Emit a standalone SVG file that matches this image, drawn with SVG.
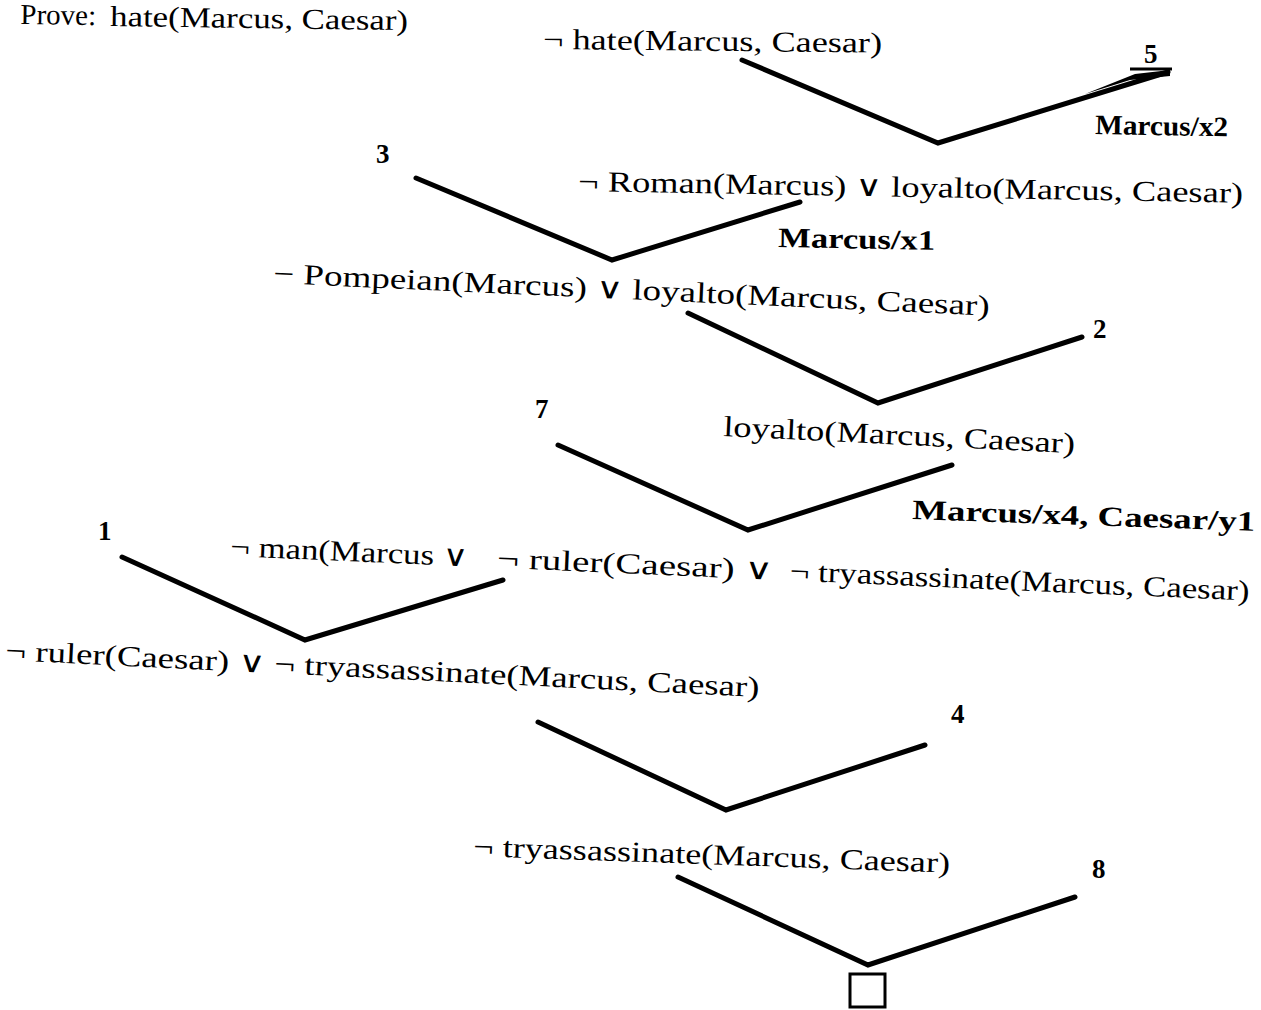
<svg xmlns="http://www.w3.org/2000/svg" width="1261" height="1010" viewBox="0 0 1261 1010">
<style>
  .t { font-family: "Liberation Serif", "DejaVu Serif", serif; font-size: 29px; fill: #000; }
  .b { font-family: "Liberation Serif", "DejaVu Serif", serif; font-size: 28px; font-weight: bold; fill: #000; }
  .n { font-family: "Liberation Serif", "DejaVu Serif", serif; font-size: 27px; font-weight: bold; fill: #000; }
  .c { fill: none; stroke: #000; stroke-width: 5; stroke-linecap: round; stroke-linejoin: miter; }
</style>
<rect width="1261" height="1010" fill="#fff"/>

<g id="goal">
  <text class="t" x="96" y="25" text-anchor="end" transform="rotate(0.8 96 25)">Prove:</text>
  <text class="t" x="110" y="26" textLength="298" lengthAdjust="spacingAndGlyphs" transform="rotate(0.8 110 26)">hate(Marcus, Caesar)</text>
</g>

<g id="c-not-hate">
  <text class="t" x="543" y="49" textLength="339" lengthAdjust="spacingAndGlyphs" transform="rotate(0.6 543 49)">¬ hate(Marcus, Caesar)</text>
</g>
<g id="ax5">
  <text class="n" x="1144" y="63">5</text>
</g>
<g id="sub-x2">
  <text class="b" x="1095" y="134" textLength="133" lengthAdjust="spacingAndGlyphs" transform="rotate(1 1095 134)">Marcus/x2</text>
</g>

<g id="ax3">
  <text class="n" x="376" y="163" font-size="22">3</text>
</g>
<g id="c-roman">
  <text class="t" x="578" y="191" textLength="665" lengthAdjust="spacingAndGlyphs" transform="rotate(1 578 191)">¬ Roman(Marcus) ∨  loyalto(Marcus, Caesar)</text>
</g>
<g id="sub-x1">
  <text class="b" x="778" y="247" textLength="157" lengthAdjust="spacingAndGlyphs" transform="rotate(1 778 247)">Marcus/x1</text>
</g>

<g id="c-pompeian">
  <text class="t" x="273" y="283" textLength="717" lengthAdjust="spacingAndGlyphs" transform="rotate(2.6 273 283)">− Pompeian(Marcus) ∨  loyalto(Marcus, Caesar)</text>
</g>
<g id="ax2">
  <text class="n" x="1093" y="338">2</text>
</g>

<g id="ax7">
  <text class="n" x="535" y="418" font-size="24">7</text>
</g>
<g id="c-loyalto">
  <text class="t" x="723" y="436" textLength="352" lengthAdjust="spacingAndGlyphs" transform="rotate(2.8 723 436)">loyalto(Marcus, Caesar)</text>
</g>
<g id="sub-x4y1">
  <text class="b" x="912" y="519" textLength="343" lengthAdjust="spacingAndGlyphs" transform="rotate(2 912 519)">Marcus/x4, Caesar/y1</text>
</g>

<g id="ax1">
  <text class="n" x="98" y="540" font-size="24">1</text>
</g>
<g id="c-man" transform="rotate(2.5 230 556)">
  <text class="t" x="230" y="556" textLength="238" lengthAdjust="spacingAndGlyphs">¬ man(Marcus ∨</text>
  <text class="t" x="497" y="556" textLength="276" lengthAdjust="spacingAndGlyphs">¬ ruler(Caesar) ∨</text>
  <text class="t" x="790" y="556" textLength="460" lengthAdjust="spacingAndGlyphs">¬ tryassassinate(Marcus, Caesar)</text>
</g>

<g id="c-ruler">
  <text class="t" x="5" y="660" textLength="755" lengthAdjust="spacingAndGlyphs" transform="rotate(2.8 5 660)">¬ ruler(Caesar)  ∨ ¬ tryassassinate(Marcus, Caesar)</text>
</g>
<g id="ax4">
  <text class="n" x="951" y="723">4</text>
</g>

<g id="c-try">
  <text class="t" x="473" y="856" textLength="477" lengthAdjust="spacingAndGlyphs" transform="rotate(2 473 856)">¬ tryassassinate(Marcus, Caesar)</text>
</g>
<g id="ax8">
  <text class="n" x="1092" y="878">8</text>
</g>

<g id="empty-clause">
  <rect x="850" y="974" width="35" height="33" fill="none" stroke="#000" stroke-width="3"/>
</g>

<g id="connectors">
  <polyline class="c" points="742,60 938,143 1168,72"/>
  <path d="M1085,94 L1135,74 L1170,70 L1170,76 L1130,80 Z" fill="#000"/>
  <line x1="1130" y1="69" x2="1172" y2="69" stroke="#000" stroke-width="3"/>
  <polyline class="c" points="416,178 612,260 800,202"/>
  <polyline class="c" points="688,313 878,403 1082,337"/>
  <polyline class="c" points="558,445 748,530 952,465"/>
  <polyline class="c" points="122,557 305,640 503,580"/>
  <polyline class="c" points="538,722 726,810 925,745"/>
  <polyline class="c" points="678,877 868,965 1075,897"/>
</g>
</svg>
